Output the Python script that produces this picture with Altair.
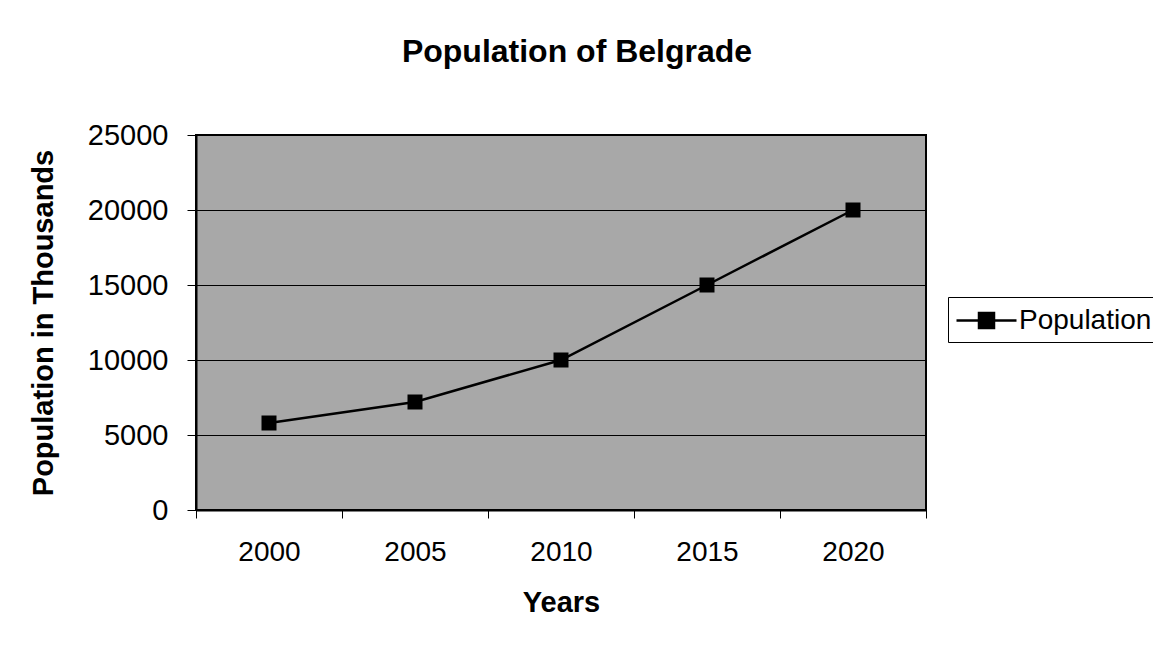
import altair as alt
import pandas as pd

years = ["2000", "2005", "2010", "2015", "2020"]
population = [5800, 7200, 10000, 15000, 20000]
series = ["Population"] * len(years)

df = pd.DataFrame({"year": years, "population": population, "series": series})

FONT = "Liberation Sans"

x_enc = alt.X(
    "year:O",
    scale=alt.Scale(type="band", paddingInner=0, paddingOuter=0),
    axis=alt.Axis(
        title="Years", labelAngle=0, tickBand="extent", grid=False,
        labelFontSize=28, titleFontSize=29, titleFontWeight="bold",
        tickSize=8, labelPadding=20, titlePadding=22,
        domainColor="black", tickColor="black", labelColor="black", titleColor="black",
        domainWidth=2,
    ),
)
y_enc = alt.Y(
    "population:Q",
    scale=alt.Scale(domain=[0, 25000], nice=False),
    axis=alt.Axis(
        title="Population in Thousands", values=[0, 5000, 10000, 15000, 20000, 25000],
        format="d", grid=True, gridColor="black", gridWidth=1,
        labelFontSize=29, titleFontSize=29, titleFontWeight="bold",
        tickSize=9, labelPadding=19, titlePadding=29,
        domainColor="black", tickColor="black", labelColor="black", titleColor="black",
        domainWidth=2,
    ),
)
color_enc = alt.Color(
    "series:N",
    scale=alt.Scale(range=["black"]),
    legend=alt.Legend(
        title=None, orient="none", legendX=752, legendY=162,
        symbolType="M-2,0H2M-0.5,-0.5H0.5V0.5H-0.5Z",
        symbolSize=900, symbolStrokeWidth=2.5, symbolOffset=15,
        symbolFillColor="black", symbolStrokeColor="black",
        labelFontSize=28, labelColor="black", labelOffset=16,
        strokeColor="black", fillColor="white", padding=7,
    ),
)

line = alt.Chart(df).mark_line(strokeWidth=2.5).encode(x=x_enc, y=y_enc, color=color_enc)
pts = alt.Chart(df).mark_point(shape="square", filled=True, size=225, opacity=1).encode(
    x=x_enc, y=y_enc, color=alt.Color("series:N", scale=alt.Scale(range=["black"]), legend=None)
)

chart = (
    alt.layer(line, pts)
    .properties(
        width=730,
        height=375,
        title=alt.Title("Population of Belgrade", fontSize=32, fontWeight="bold", color="black",
                        anchor="middle", offset=52, dx=16, font=FONT),
        autosize=alt.AutoSizeParams(type="none"),
        padding={"left": 188, "top": 127, "right": 227, "bottom": 128},
    )
    .configure(font=FONT)
    .configure_view(fill="#a8a8a8", stroke="black", strokeWidth=2)
    .configure_axis(labelFont=FONT, titleFont=FONT)
    .configure_legend(labelFont=FONT)
)

chart.save("out.html", embed_options={"renderer": "svg", "actions": False})
